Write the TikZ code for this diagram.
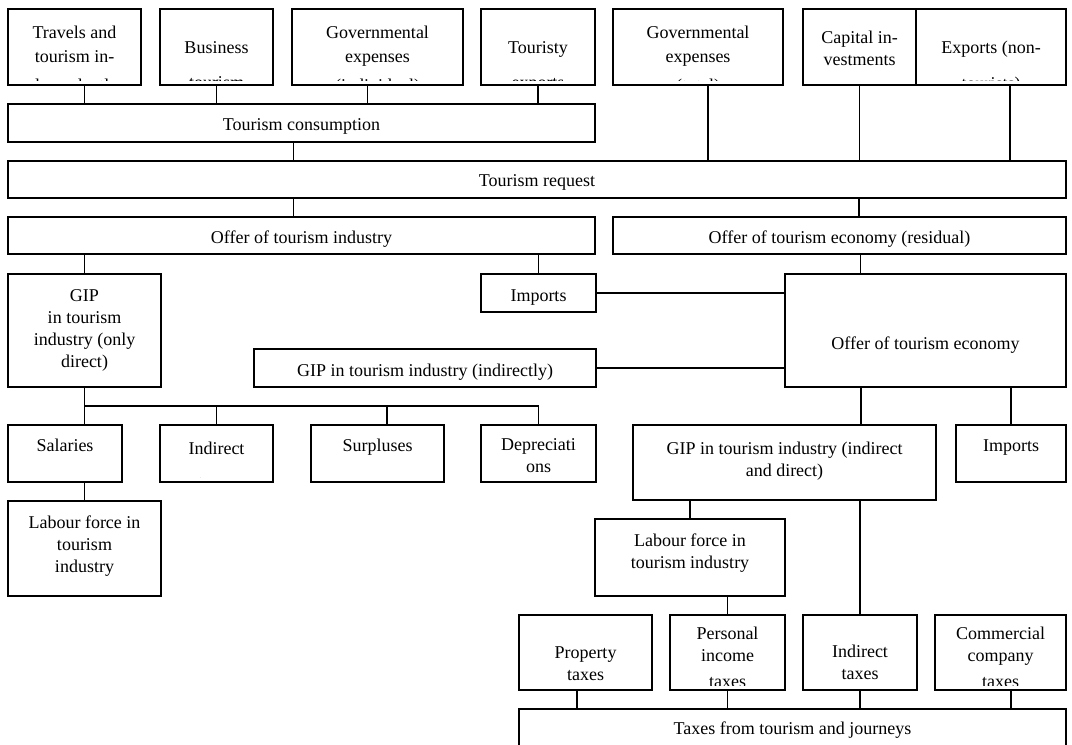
\documentclass[tikz,border=0pt]{standalone}
\usepackage{fontspec}
\setmainfont{Liberation Serif}
\usetikzlibrary{fit,calc}
\tikzset{box/.style={draw, line width=1.2pt, inner sep=0pt}}
\tikzset{link/.style={line width=1pt}}
\tikzset{txt/.style={inner sep=0pt, align=center, font=\fontsize{13.5}{16.5}\selectfont}}
% text of a box, cut off near the bottom edge of the box
\newcommand{\boxtext}[3]{%
  \begin{scope}
    \clip ([yshift=3.75pt]#1.south west) rectangle (#1.north east);
    \node[txt, anchor=north] (#1t) at ($(#1.north)+(0,#2)$) {#3};
  \end{scope}}

\begin{document}
\begin{tikzpicture}[x=0.75pt, y=-0.75pt]

    \useasboundingbox (0,0) rectangle (1072,744);

    % demand side
    \node[box, fit={(8,9) (141,85)}] (trav) {};
    \node[box, fit={(160,9) (273,85)}] (bus) {};
    \node[box, fit={(292,9) (463,85)}] (govi) {};
    \node[box, fit={(481,9) (595,85)}] (texp) {};
    \node[box, fit={(613,9) (783,85)}] (govt) {};
    \node[box, fit={(803,9) (916,85)}] (cap) {};
    \node[box, fit={(916,9) (1066,85)}] (expo) {};
    \node[box, fit={(8,104) (595,142)}] (cons) {};
    \node[box, fit={(8,161) (1066,198)}] (req) {};

    \boxtext{trav}{18}{Travels and\\[1.5pt]tourism in-\\[5pt]dependently}
    \boxtext{bus}{33}{Business\\[10pt]tourism}
    \boxtext{govi}{18}{Governmental\\[1.5pt]expenses\\[5pt](individual)}
    \boxtext{texp}{33}{Touristy\\[10pt]exports}
    \boxtext{govt}{18}{Governmental\\[1.5pt]expenses\\[5pt](total)}
    \boxtext{cap}{23}{Capital in-\\vestments}
    \boxtext{expo}{33}{Exports (non-\\[10pt]tourists)}
    \boxtext{cons}{15}{Tourism consumption}
    \boxtext{req}{14}{Tourism request}

    % supply side
    \node[box, fit={(8,217) (595,254)}] (offind) {};
    \node[box, fit={(613,217) (1066,254)}] (offres) {};
    \node[box, fit={(8,274) (161,387)}] (gipd) {};
    \node[box, fit={(481,274) (596,312)}] (impl) {};
    \node[box, fit={(785,274) (1066,387)}] (offeco) {};
    \node[box, fit={(254,349) (596,387)}] (gipi) {};

    \boxtext{offind}{14}{Offer of tourism industry}
    \boxtext{offres}{14}{Offer of tourism economy (residual)}
    \boxtext{gipd}{16}{GIP\\in tourism\\industry (only\\direct)}
    \boxtext{impl}{16}{Imports}
    \boxtext{offeco}{63}{Offer of tourism economy}
    \boxtext{gipi}{16}{GIP in tourism industry (indirectly)}

    \node[box, fit={(8,425) (122,482)}] (sal) {};
    \node[box, fit={(160,425) (273,482)}] (ind) {};
    \node[box, fit={(311,425) (444,482)}] (sur) {};
    \node[box, fit={(481,425) (596,482)}] (dep) {};
    \node[box, fit={(633,425) (936,500)}] (gipid) {};
    \node[box, fit={(956,425) (1066,482)}] (impr) {};
    \node[box, fit={(8,501) (161,596)}] (labl) {};
    \node[box, fit={(595,519) (785,596)}] (labm) {};

    \boxtext{sal}{15}{Salaries}
    \boxtext{ind}{18}{Indirect\\[9pt]taxes}
    \boxtext{sur}{15}{Surpluses}
    \boxtext{dep}{14}{Depreciati\\ons}
    \boxtext{gipid}{18}{GIP in tourism industry (indirect\\and direct)}
    \boxtext{impr}{15}{Imports}
    \boxtext{labl}{15}{Labour force in\\tourism\\industry}
    \boxtext{labm}{15}{Labour force in\\tourism industry}

    % taxes
    \node[box, fit={(519,615) (652,690)}] (prop) {};
    \node[box, fit={(670,615) (785,690)}] (pers) {};
    \node[box, fit={(803,615) (917,690)}] (indt) {};
    \node[box, fit={(935,615) (1066,690)}] (comm) {};
    \node[box, fit={(519,709) (1066,752)}] (taxes) {};

    \boxtext{prop}{32}{Property\\taxes}
    \boxtext{pers}{13}{Personal\\income\\[3pt]taxes}
    \boxtext{indt}{31}{Indirect\\taxes}
    \boxtext{comm}{13}{Commercial\\company\\[3pt]taxes}
    \boxtext{taxes}{13}{Taxes from tourism and journeys}

    % connectors
    \draw[link] ([xshift=7.5pt]trav.south) -- ([xshift=7.5pt]trav.south |- cons.north);
    \draw[link] (bus.south) -- (bus.south |- cons.north);
    \draw[link] ([xshift=-7.5pt]govi.south) -- ([xshift=-7.5pt]govi.south |- cons.north);
    \draw[link] (texp.south) -- (texp.south |- cons.north);

    \draw[link] ([xshift=7.5pt]govt.south) -- ([xshift=7.5pt]govt.south |- req.north);
    \draw[link] (cap.south) -- (cap.south |- req.north);
    \draw[link] ([xshift=14.25pt]expo.south) -- ([xshift=14.25pt]expo.south |- req.north);
    \draw[link] ([xshift=-6pt]cons.south) -- ([xshift=-6pt]cons.south |- req.north);

    \draw[link] ([xshift=-6pt]offind.north) -- ([xshift=-6pt]offind.north |- req.south);
    \draw[link] ([xshift=14.6pt]offres.north) -- ([xshift=14.6pt]offres.north |- req.south);
    \draw[link] (gipd.north) -- (gipd.north |- offind.south);
    \draw[link] (impl.north) -- (impl.north |- offind.south);
    \draw[link] ([xshift=15.5pt]offres.south) -- ([xshift=15.5pt]offres.south |- offeco.north);
    \draw[link] (impl.east) -- (impl.east -| offeco.west);
    \draw[link] (gipi.east) -- (gipi.east -| offeco.west);

    \coordinate (busl) at ($(gipd.south)!0.5!(gipd.south |- sal.north)$);
    \draw[link] (gipd.south) -- (gipd.south |- sal.north);
    \draw[link] (busl) -- (busl -| dep.north) -- (dep.north);
    \draw[link] (ind.north) -- (ind.north |- busl);
    \draw[link] ([xshift=7.1pt]sur.north) -- ([xshift=7.1pt]sur.north |- busl);
    \draw[link] (labl.north) -- (labl.north |- sal.south);

    \draw[link] ([xshift=-48.4pt]offeco.south) -- ([xshift=-48.4pt]offeco.south |- gipid.north);
    \draw[link] (impr.north) -- (impr.north |- offeco.south);
    \draw[link] (labm.north) -- (labm.north |- gipid.south);
    \draw[link] (indt.north) -- (indt.north |- gipid.south);
    \draw[link] (pers.north) -- (pers.north |- labm.south);

    \draw[link] ([xshift=-6.4pt]prop.south) -- ([xshift=-6.4pt]prop.south |- taxes.north);
    \draw[link] (pers.south) -- (pers.south |- taxes.north);
    \draw[link] (indt.south) -- (indt.south |- taxes.north);
    \draw[link] ([xshift=7.9pt]comm.south) -- ([xshift=7.9pt]comm.south |- taxes.north);

\end{tikzpicture}
\end{document}
